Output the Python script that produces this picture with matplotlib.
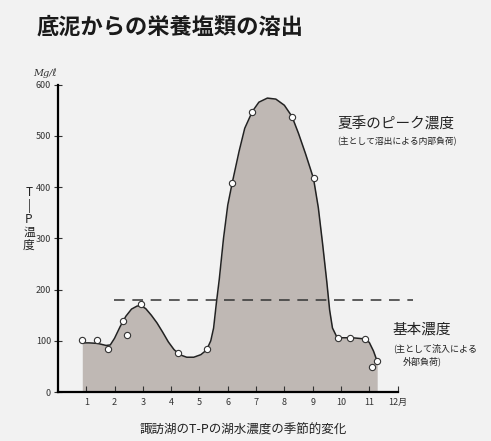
import matplotlib
matplotlib.use("Agg")
import matplotlib.pyplot as plt

plt.rcParams['font.family'] = ['Noto Sans CJK JP', 'DejaVu Sans']

# measured sample points (month, T-P)
obs_month = [0.84, 1.38, 1.76, 2.29, 2.43, 2.92, 4.25, 5.28, 6.16, 6.87, 8.27, 9.03,
             9.88, 10.33, 10.85, 11.1, 11.27]
obs_value = [101, 101, 85, 139, 111, 172, 77, 85, 409, 546, 538, 417,
             106, 106, 104, 49, 61]

# smoothed seasonal curve
curve_month = [0.86, 1.1, 1.4, 1.7, 1.85, 2.0, 2.2, 2.4, 2.6, 2.8, 2.95, 3.1, 3.3, 3.5,
               3.7, 3.9, 4.1, 4.3, 4.55, 4.8, 5.05, 5.25, 5.4, 5.5, 5.6, 5.7, 5.85,
               6.0, 6.16, 6.4, 6.6, 6.87, 7.1, 7.4, 7.7, 8.0, 8.27, 8.5, 8.75, 9.03,
               9.2, 9.35, 9.5, 9.6, 9.7, 9.85, 10.0, 10.4, 10.8, 11.0, 11.15, 11.28]
curve_value = [96, 96, 95, 91, 92, 105, 128, 148, 162, 168, 168, 163, 150, 135,
               117, 98, 83, 73, 68, 68, 73, 82, 100, 125, 175, 220, 300,
               365, 409, 470, 515, 548, 566, 574, 572, 560, 538, 505, 465, 417,
               360, 290, 215, 160, 125, 108, 106, 106, 104, 97, 80, 60]

dash_level = 180
dash_span = [1.98, 12.55]

month_ticks = list(range(1, 13))
month_labels = [str(m) for m in range(1, 12)] + ['12月']
value_ticks = [0, 100, 200, 300, 400, 500, 600]

bg = '#f2f2f2'
fig = plt.figure(figsize=(4.91, 4.41), dpi=100, facecolor=bg)
ax = fig.add_axes([0.118, 0.111, 0.807, 0.720])
ax.set_facecolor('none')

ax.fill_between(curve_month, curve_value, 0, color='#bfb8b4', lw=0)
ax.plot(curve_month, curve_value, color='#222222', lw=1.1)
ax.plot(obs_month, obs_value, 'o', ms=4.5, mfc='white', mec='#333333', mew=0.8)
ax.plot(dash_span, [dash_level, dash_level], color='#333333', lw=1.1,
        dashes=(7, 5))

ax.set_xlim(0, 14)
ax.set_ylim(0, 620)
for s in ['top', 'right']:
    ax.spines[s].set_visible(False)
ax.spines['left'].set_bounds(0, 600)
ax.spines['bottom'].set_bounds(0, 12)
ax.spines['left'].set_linewidth(1.6)
ax.spines['bottom'].set_linewidth(1.6)

ax.set_xticks(month_ticks)
ax.set_xticklabels(month_labels)
ax.set_yticks(value_ticks)
ax.tick_params(axis='x', direction='in', length=4, labelsize=6.5, colors='#333333', pad=4)
ax.tick_params(axis='y', direction='inout', length=6, labelsize=6.5, colors='#333333', pad=2)

fig.text(37 / 491, 0.939, '底泥からの栄養塩類の溶出', fontsize=16, fontweight='bold',
         va='center', ha='left', color='#1a1a1a')
fig.text(33 / 491, 0.834, 'Mg/ℓ', fontsize=7, style='italic',
         family=['DejaVu Serif', 'DejaVu Sans'],
         va='center', ha='left', color='#333333')
fig.text(29 / 491, 0.503, 'T\n|\nP\n温\n度', fontsize=8.5, va='center', ha='center',
         linespacing=1.0, color='#222222')

fig.text(337 / 491, 0.717, '夏季のピーク濃度', fontsize=10.5, va='center', ha='left',
         color='#222222')
fig.text(337 / 491, 0.678, '(主として溶出による内部負荷)', fontsize=6.3, va='center',
         ha='left', color='#222222')
fig.text(393 / 491, 0.252, '基本濃度', fontsize=10.5, va='center', ha='left',
         color='#222222')
fig.text(393 / 491, 0.211, '(主として流入による', fontsize=6.5, va='center', ha='left',
         color='#222222')
fig.text(403 / 491, 0.181, '外部負荷)', fontsize=6.5, va='center', ha='left',
         color='#222222')

fig.text(243 / 491, 0.025, '諏訪湖のT-Pの湖水濃度の季節的変化', fontsize=9, va='center',
         ha='center', color='#222222')

fig.savefig('out.png', dpi=100, facecolor=bg)
